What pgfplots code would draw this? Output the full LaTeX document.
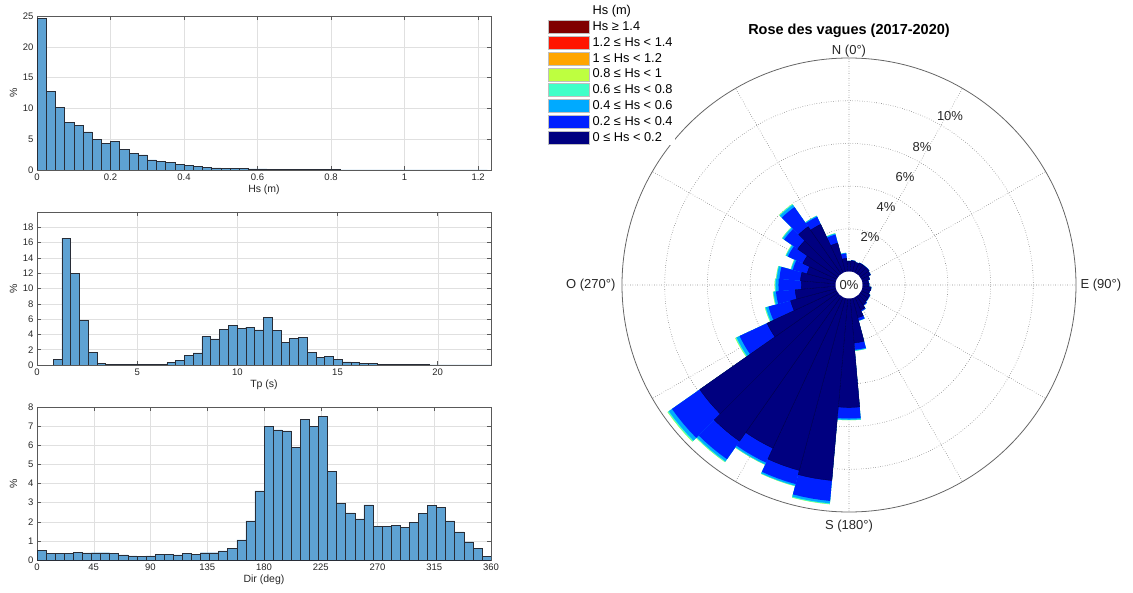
\documentclass[border=0pt]{standalone}
\usepackage{fontspec}
\setmainfont{Liberation Sans}
\usepackage{pgfplots}
\usepackage{pgfplotstable}
\usepgfplotslibrary{polar}
\pgfplotsset{compat=1.18}

\definecolor{histfill}{RGB}{94,162,211}
\definecolor{histedge}{RGB}{40,45,55}
\definecolor{txt}{RGB}{38,38,38}
\definecolor{cls1}{RGB}{0,0,128}
\definecolor{cls2}{RGB}{0,32,255}
\definecolor{cls3}{RGB}{0,170,255}
\definecolor{cls4}{RGB}{64,255,200}
\definecolor{cls5}{RGB}{190,255,64}
\definecolor{cls6}{RGB}{255,165,0}
\definecolor{cls7}{RGB}{255,20,0}
\definecolor{cls8}{RGB}{128,0,0}
\definecolor{navyedge}{RGB}{0,0,70}

\pgfplotstableread{
x y
0.000 24.6
0.025 12.8
0.050 10.2
0.075 7.7
0.100 7.3
0.125 6.2
0.150 5.0
0.175 4.3
0.200 4.6
0.225 3.4
0.250 2.7
0.275 2.45
0.300 1.65
0.325 1.45
0.350 1.25
0.375 0.9
0.400 0.75
0.425 0.55
0.450 0.42
0.475 0.33
0.500 0.28
0.525 0.25
0.550 0.22
0.575 0.2
0.600 0.17
0.625 0.14
0.650 0.12
0.675 0.1
0.700 0.09
0.725 0.07
0.750 0.06
0.775 0.05
0.800 0.05
0.825 0.04
0.850 0.04
0.875 0.03
0.900 0.03
0.925 0.03
0.950 0.02
0.975 0.02
1.000 0.02
1.025 0.02
1.050 0.01
1.075 0.01
1.100 0.01
1.125 0.01
1.150 0.01
1.175 0.01
1.200 0.01
1.225 0
}\hsdata

\pgfplotstableread{
x y
0.800 0.7
1.237 16.6
1.674 12.0
2.112 5.8
2.549 1.67
2.986 0.26
3.423 0.13
3.860 0.12
4.298 0.07
4.735 0.08
5.172 0.05
5.609 0.08
6.046 0.12
6.484 0.3
6.921 0.6
7.358 1.3
7.795 1.58
8.232 3.72
8.670 3.42
9.107 4.65
9.544 5.18
9.981 4.83
10.418 4.96
10.856 4.6
11.293 6.19
11.730 4.57
12.167 3.0
12.604 3.5
13.042 3.64
13.479 1.67
13.916 0.97
14.353 1.1
14.790 0.7
15.228 0.42
15.665 0.38
16.102 0.25
16.539 0.25
16.976 0.05
17.414 0.12
17.851 0.05
18.288 0.05
18.725 0.04
19.162 0.04
19.600 0.02
20.037 0.02
20.474 0.01
20.911 0.01
21.348 0.01
21.786 0.01
22.223 0.01
22.660 0
}\tpdata

\pgfplotstableread{
x y
0 0.5
7.2 0.35
14.4 0.35
21.6 0.33
28.8 0.4
36 0.37
43.2 0.38
50.4 0.38
57.6 0.35
64.8 0.27
72 0.22
79.2 0.2
86.4 0.22
93.6 0.3
100.8 0.3
108 0.27
115.2 0.35
122.4 0.3
129.6 0.38
136.8 0.38
144 0.48
151.2 0.6
158.4 1.05
165.6 2.05
172.8 3.62
180 6.98
187.2 6.8
194.4 6.75
201.6 5.9
208.8 7.35
216 6.98
223.2 7.5
230.4 4.62
237.6 2.97
244.8 2.47
252 2.15
259.2 2.88
266.4 1.75
273.6 1.75
280.8 1.8
288 1.7
295.2 1.95
302.4 2.45
309.6 2.85
316.8 2.75
324 2.05
331.2 1.47
338.4 0.95
345.6 0.6
352.8 0.2
360 0
}\dirdata

% rose: direction (deg, from N clockwise), % per Hs class
\pgfplotstableread{
dir n1 n2 n3 n4 n5
0 0.48 0.02 0 0 0
10 0.51 0.02 0 0 0
20 0.46 0.02 0 0 0
30 0.50 0.02 0 0 0
40 0.50 0.02 0 0 0
50 0.51 0.02 0 0 0
60 0.47 0.02 0 0 0
70 0.36 0.02 0 0 0
80 0.28 0.02 0 0 0
90 0.30 0.02 0 0 0
100 0.40 0.02 0 0 0
110 0.37 0.02 0 0 0
120 0.44 0.03 0 0 0
130 0.45 0.03 0 0 0
140 0.50 0.05 0 0 0
150 0.66 0.06 0 0 0
160 0.95 0.14 0.01 0 0
170 2.09 0.32 0.04 0.01 0
180 5.10 0.52 0.06 0.02 0
190 8.56 0.96 0.11 0.04 0.01
200 8.36 0.66 0.08 0.02 0.01
210 7.80 0.75 0.09 0.02 0.01
220 8.30 1.03 0.12 0.04 0.01
230 7.90 1.59 0.18 0.06 0.02
240 3.60 1.42 0.16 0.05 0.02
250 2.20 1.07 0.13 0.04 0.01
260 1.90 0.90 0.11 0.03 0.01
270 1.60 1.07 0.13 0.04 0.01
280 1.65 0.99 0.12 0.03 0.01
290 1.40 0.69 0.08 0.02 0.01
300 1.75 0.77 0.09 0.03 0.01
310 2.30 0.77 0.09 0.03 0.01
320 2.70 1.12 0.13 0.04 0.01
330 2.50 0.39 0.045 0.01 0.005
340 1.40 0.41 0.05 0.015 0.005
350 0.62 0.23 0.03 0 0
}\rosedata

\pgfplotsset{
  hist/.style={
    scale only axis, width=454pt, height=153pt,
    ymin=0,
    axis line style={black!65, line width=0.5pt},
    grid=major, major grid style={black!12, line width=0.4pt},
    tick align=inside, major tick length=4pt,
    tick style={black!65, line width=0.5pt},
    ticklabel style={font=\fontsize{9.5}{11}\selectfont, text=txt},
    label style={font=\fontsize{10.5}{12}\selectfont, text=txt},
    /pgf/number format/assume math mode=true,
    ylabel={\%},
    ylabel style={at={(axis description cs:-0.052,0.5)}, anchor=center},
    xlabel style={at={(axis description cs:0.5,-0.13)}, anchor=center},
  },
  histbar/.style={ybar interval, fill=histfill, draw=histedge, line width=0.45pt},
}

\begin{document}
\begin{tikzpicture}
\path[use as bounding box] (0pt,0pt) rectangle (1133pt,592pt);

% ---- Hs histogram
\begin{axis}[hist, at={(37pt,422pt)}, anchor=south west, height=154pt,
  xmin=0, xmax=1.235, ymax=25,
  xtick={0,0.2,0.4,0.6,0.8,1,1.2}, ytick={0,5,...,25},
  xlabel={Hs (m)}]
\addplot[histbar] table[x=x,y=y]{\hsdata};
\end{axis}

% ---- Tp histogram
\begin{axis}[hist, at={(37pt,227pt)}, anchor=south west,
  xmin=0, xmax=22.66, ymax=20,
  xtick={0,5,10,15,20}, ytick={0,2,...,18},
  xlabel={Tp (s)}]
\addplot[histbar] table[x=x,y=y]{\tpdata};
\end{axis}

% ---- Dir histogram
\begin{axis}[hist, at={(37pt,32pt)}, anchor=south west,
  xmin=0, xmax=360, ymax=8,
  xtick={0,45,...,360}, ytick={0,1,...,8},
  xlabel={Dir (deg)}]
\addplot[histbar] table[x=x,y=y]{\dirdata};
\end{axis}

% ---- Wave rose
\begin{polaraxis}[
  at={(849pt,307pt)}, anchor=center,
  scale only axis, width=454pt, height=454pt,
  xmin=0, xmax=360, ymin=0, ymax=10.634,
  xtick={0,30,...,330}, ytick={2.634,4.634,6.634,8.634},
  xticklabels={}, yticklabels={},
  major tick length=0pt,
  grid=major, major grid style={dotted, black!70, line width=0.55pt},
  x axis line style={black!60, line width=0.8pt},
  y axis line style={draw=none},
  clip=false,
  legend style={at={(axis description cs:-0.1663,1.1218)}, anchor=north west,
    draw=none, fill=white, inner sep=1pt,
    font=\fontsize{12.8}{14}\selectfont, text=black,
    nodes={inner sep=1.5pt}, row sep=2.4pt,
    /tikz/every odd column/.append style={column sep=2pt}},
  legend cell align=left,
]
\pgfplotsforeachungrouped \k in {5,4,3,2,1} {%
  \pgfplotsforeachungrouped \i in {0,...,35} {%
    \pgfplotstablegetelem{\i}{dir}\of\rosedata
    \pgfmathsetmacro\d{\pgfplotsretval}%
    \def\cum{0.634}%
    \pgfplotsforeachungrouped \j in {1,...,\k} {%
      \pgfplotstablegetelem{\i}{n\j}\of\rosedata
      \pgfmathsetmacro\cum{\cum+\pgfplotsretval}%
    }%
    \pgfmathsetmacro\aa{90-\d+5}%
    \pgfmathsetmacro\ma{90-\d+2.5}%
    \pgfmathsetmacro\mm{90-\d}%
    \pgfmathsetmacro\mb{90-\d-2.5}%
    \pgfmathsetmacro\bb{90-\d-5}%
    \edef\temp{\noexpand\addplot[forget plot, fill=cls\k, draw=\ifnum\k=1 navyedge\else none\fi, line width=0.3pt]
      coordinates {(\aa,0) (\aa,\cum) (\ma,\cum) (\mm,\cum) (\mb,\cum) (\bb,\cum) (\bb,0) (\aa,0)};}%
    \temp
  }%
}
\addlegendimage{empty legend}
\addlegendentry{Hs (m)}
\addlegendimage{legend image code/.code={\filldraw[fill=cls8,draw=black!25] (0pt,-6.5pt) rectangle (41pt,6.5pt);}}
\addlegendentry{Hs ≥ 1.4}
\addlegendimage{legend image code/.code={\filldraw[fill=cls7,draw=black!25] (0pt,-6.5pt) rectangle (41pt,6.5pt);}}
\addlegendentry{1.2 ≤ Hs < 1.4}
\addlegendimage{legend image code/.code={\filldraw[fill=cls6,draw=black!25] (0pt,-6.5pt) rectangle (41pt,6.5pt);}}
\addlegendentry{1 ≤ Hs < 1.2}
\addlegendimage{legend image code/.code={\filldraw[fill=cls5,draw=black!25] (0pt,-6.5pt) rectangle (41pt,6.5pt);}}
\addlegendentry{0.8 ≤ Hs < 1}
\addlegendimage{legend image code/.code={\filldraw[fill=cls4,draw=black!25] (0pt,-6.5pt) rectangle (41pt,6.5pt);}}
\addlegendentry{0.6 ≤ Hs < 0.8}
\addlegendimage{legend image code/.code={\filldraw[fill=cls3,draw=black!25] (0pt,-6.5pt) rectangle (41pt,6.5pt);}}
\addlegendentry{0.4 ≤ Hs < 0.6}
\addlegendimage{legend image code/.code={\filldraw[fill=cls2,draw=black!25] (0pt,-6.5pt) rectangle (41pt,6.5pt);}}
\addlegendentry{0.2 ≤ Hs < 0.4}
\addlegendimage{legend image code/.code={\filldraw[fill=cls1,draw=black!25] (0pt,-6.5pt) rectangle (41pt,6.5pt);}}
\addlegendentry{0 ≤ Hs < 0.2}
\end{polaraxis}

% centre hole and labels
\node[circle, fill=white, minimum size=27pt, inner sep=0pt, font=\fontsize{13}{14}\selectfont, text=black!85] at (849pt,307pt) {0\%};
\begin{scope}[every node/.style={font=\fontsize{13}{15}\selectfont, text=black!85}]
\node at (870pt,355pt) {2\%};
\node at (886pt,385pt) {4\%};
\node at (905pt,415pt) {6\%};
\node at (922pt,445pt) {8\%};
\node at (950pt,476pt) {10\%};
\node at (849pt,541pt) {N (0°)};
\node at (849pt,66pt) {S (180°)};
\node[anchor=west] at (1077pt,307pt) {E (90°)};
\node[anchor=east] at (619pt,307pt) {O (270°)};
\end{scope}
\node[font=\bfseries\fontsize{14.5}{16}\selectfont] at (849pt,561pt) {Rose des vagues (2017-2020)};
\end{tikzpicture}
\end{document}
